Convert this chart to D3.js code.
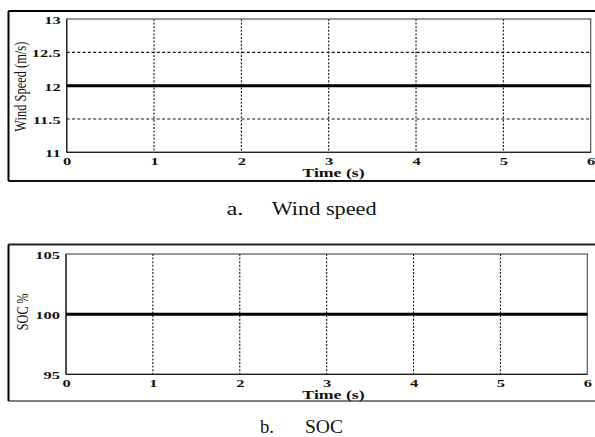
<!DOCTYPE html>
<html><head><meta charset="utf-8">
<script src="https://cdn.jsdelivr.net/npm/d3@7"></script>
<style>body{margin:0;background:#fff}svg{display:block}</style>
</head><body>
<svg id="c" width="595" height="437"></svg>
<script>
const timeS = [0, 6];
const windSpeed = [12, 12];
const soc = [100, 100];
const xTicks = [0, 1, 2, 3, 4, 5, 6];
const windTicks = [11, 11.5, 12, 12.5, 13];
const socTicks = [95, 100, 105];

const svg = d3.select("#c");
const serif = "'Liberation Serif','Times New Roman',serif";

function panel(cfg) {
  const g = svg.append("g");
  // outer frame
  g.append("line").attr("x1", cfg.frame[0]).attr("x2", 600).attr("y1", cfg.frame[1]).attr("y2", cfg.frame[1])
    .attr("stroke", cfg.topColor).attr("stroke-width", 2);
  g.append("line").attr("x1", cfg.frame[0]).attr("x2", 600).attr("y1", cfg.frame[2]).attr("y2", cfg.frame[2])
    .attr("stroke", cfg.botColor).attr("stroke-width", cfg.botW);
  g.append("line").attr("x1", cfg.frame[0]).attr("x2", cfg.frame[0]).attr("y1", cfg.frame[1]).attr("y2", cfg.frame[2])
    .attr("stroke", "#000").attr("stroke-width", 2);

  const x = d3.scaleLinear().domain([0, 6]).range([cfg.l, cfg.r]);
  const y = d3.scaleLinear().domain(cfg.yDomain).range([cfg.b, cfg.t]);

  // grid
  const grid = g.append("g");
  grid.selectAll(".vg").data(xTicks.slice(1, -1)).join("line")
    .attr("x1", d => x(d)).attr("x2", d => x(d)).attr("y1", cfg.t).attr("y2", cfg.b)
    .attr("stroke", "#111").attr("stroke-width", 1.1).attr("stroke-dasharray", "2,1.6");
  grid.selectAll(".hg").data(cfg.yTicks.slice(1, -1)).join("line")
    .attr("x1", cfg.l).attr("x2", cfg.r).attr("y1", d => y(d)).attr("y2", d => y(d))
    .attr("stroke", "#111").attr("stroke-width", 1.1).attr("stroke-dasharray", "3,2.3");

  // box
  g.append("rect").attr("x", cfg.l).attr("y", cfg.t).attr("width", cfg.r - cfg.l).attr("height", cfg.b - cfg.t)
    .attr("fill", "none").attr("stroke", "#555").attr("stroke-width", 1.2);
  g.append("line").attr("x1", cfg.l).attr("x2", cfg.l).attr("y1", cfg.t).attr("y2", cfg.b)
    .attr("stroke", "#222").attr("stroke-width", 1.3);
  g.append("line").attr("x1", cfg.l).attr("x2", cfg.r).attr("y1", cfg.b).attr("y2", cfg.b)
    .attr("stroke", "#222").attr("stroke-width", 1.3);

  // data line
  const line = d3.line().x((d, i) => x(timeS[i])).y(d => y(d));
  g.append("path").datum(cfg.values).attr("d", line)
    .attr("fill", "none").attr("stroke", "#000").attr("stroke-width", 3);

  const sx = 1.5;
  // x axis labels
  const ax = g.append("g").attr("transform", `translate(0,${cfg.b})`)
    .call(d3.axisBottom(x).tickValues(xTicks).tickSize(0).tickPadding(0).tickFormat(d3.format("d")));
  ax.select(".domain").remove();
  ax.selectAll("text").attr("y", 0).attr("dy", null)
    .attr("transform", `translate(0,${cfg.xLabY}) scale(${sx},1)`)
    .attr("font-family", serif).attr("font-weight", "bold").attr("font-size", 11).attr("fill", "#111");

  // y axis labels
  const ay = g.append("g").attr("transform", `translate(${cfg.l},0)`)
    .call(d3.axisLeft(y).tickValues(cfg.yTicks).tickSize(0).tickPadding(0).tickFormat(d => String(d)));
  ay.select(".domain").remove();
  ay.selectAll("text").attr("x", 0).attr("dy", null).attr("y", 0)
    .attr("transform", `translate(-6,4.5) scale(${sx},1)`)
    .attr("font-family", serif).attr("font-weight", "bold").attr("font-size", 11).attr("fill", "#111");

  // axis titles
  g.append("text").attr("transform", `translate(333.5,${cfg.xTitleY}) scale(1.42,1)`)
    .attr("text-anchor", "middle").attr("font-family", serif).attr("font-weight", "bold")
    .attr("font-size", 12.5).attr("fill", "#111").text("Time (s)");
  g.append("text").attr("transform", `translate(${cfg.yTitleX},${cfg.yTitleY}) rotate(-90)`)
    .attr("text-anchor", "middle").attr("font-family", serif).attr("font-size", 16.5)
    .attr("textLength", cfg.yTitleLen).attr("lengthAdjust", "spacingAndGlyphs")
    .attr("fill", "#111").text(cfg.yTitle);

  // caption
  svg.append("text").attr("x", cfg.cap[0]).attr("y", cfg.cap[2]).attr("font-family", serif)
    .attr("font-size", 18).attr("fill", "#111")
    .attr("textLength", cfg.capLen[0]).attr("lengthAdjust", "spacingAndGlyphs").text(cfg.capA);
  svg.append("text").attr("x", cfg.cap[1]).attr("y", cfg.cap[2]).attr("font-family", serif)
    .attr("font-size", 18).attr("fill", "#111")
    .attr("textLength", cfg.capLen[1]).attr("lengthAdjust", "spacingAndGlyphs").text(cfg.capB);
}

panel({
  frame: [8.5, 11, 181], topColor: "#000", botColor: "#111", botW: 2,
  l: 66.7, r: 590.7, t: 19, b: 152.3,
  yDomain: [11, 13], yTicks: windTicks, values: windSpeed,
  xLabY: 12.7, xTitleY: 176.5, yTitleX: 26, yTitleY: 86.7, yTitleLen: 90,
  yTitle: "Wind Speed (m/s)",
  cap: [226.5, 271.7, 215], capLen: [17, 105], capA: "a.", capB: "Wind speed"
});
panel({
  frame: [8.5, 244.5, 401], topColor: "#222", botColor: "#555", botW: 1.5,
  l: 66, r: 587.3, t: 254, b: 374.3,
  yDomain: [95, 105], yTicks: socTicks, values: soc,
  xLabY: 12.7, xTitleY: 398.5, yTitleX: 28.3, yTitleY: 311.7, yTitleLen: 37,
  yTitle: "SOC %",
  cap: [260, 305, 433], capLen: [14, 38], capA: "b.", capB: "SOC"
});
</script>
</body></html>
